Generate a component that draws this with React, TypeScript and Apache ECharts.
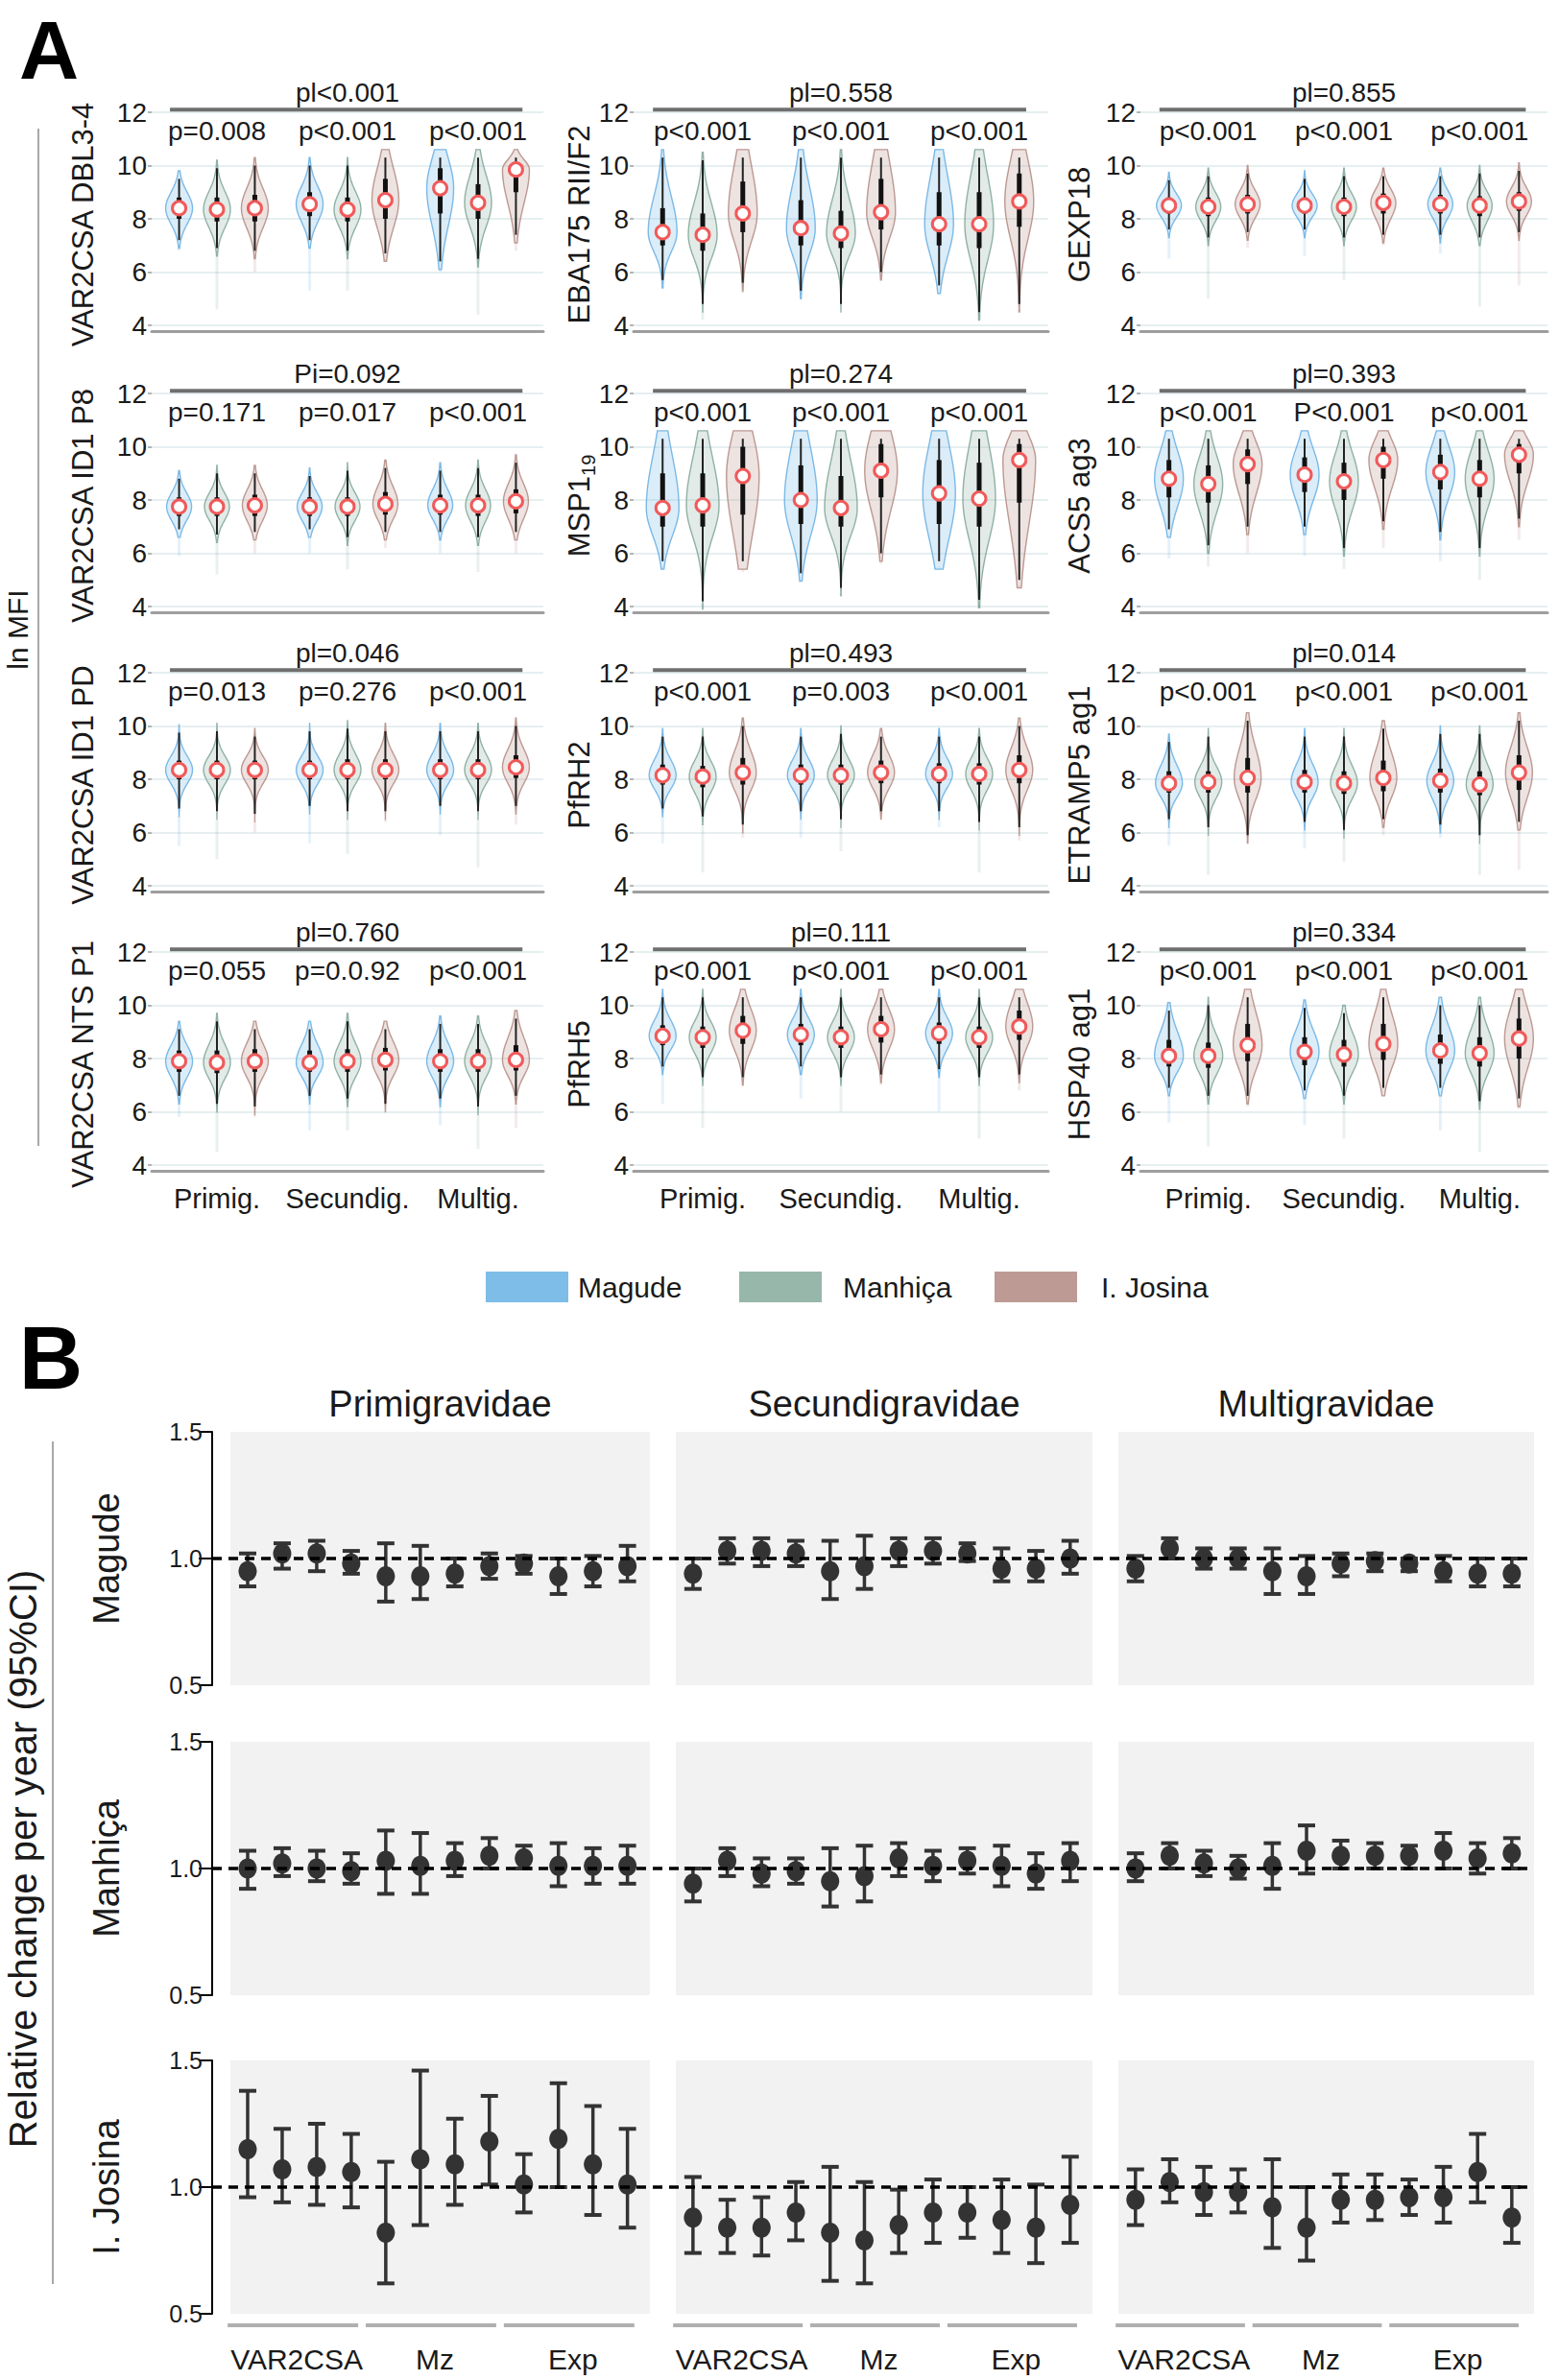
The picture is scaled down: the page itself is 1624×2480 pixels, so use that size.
import React, { useEffect, useRef } from 'react';
import * as echarts from 'echarts';

// ================= Panel A : violin plots (ln MFI) =================
const GROUPS = ['Primig.', 'Secundig.', 'Multig.'];
const SITES = ['Magude', 'Manhiça', 'I. Josina'];

// each row: [tail, lowerWhisker, q1, median, q3, upperWhisker]
// rows: Primig (Magude, Manhiça, I. Josina), Secundig (...), Multig (...)
const dbl34 = [
  [6.8, 7.2, 8.0, 8.4, 8.8, 9.5], [4.6, 6.9, 7.9, 8.35, 8.8, 9.9], [6.0, 6.8, 7.9, 8.4, 8.9, 10.0],
  [5.3, 7.2, 8.1, 8.55, 9.0, 10.0], [5.3, 6.8, 7.9, 8.35, 8.8, 10.0], [6.5, 6.7, 8.0, 8.7, 9.5, 10.3],
  [6.0, 6.4, 8.2, 9.15, 9.9, 10.3], [4.4, 6.5, 8.0, 8.6, 9.3, 10.3], [6.8, 7.4, 9.0, 9.85, 10.1, 10.3],
];
const eba175 = [
  [5.5, 5.7, 7.0, 7.5, 8.4, 10.3], [4.2, 4.8, 6.8, 7.4, 8.2, 10.2], [5.2, 5.6, 7.5, 8.2, 9.4, 10.3],
  [5.0, 5.3, 7.0, 7.65, 8.7, 10.3], [4.5, 4.8, 6.9, 7.45, 8.3, 10.3], [5.7, 6.0, 7.6, 8.25, 9.5, 10.3],
  [5.2, 5.5, 7.0, 7.8, 9.0, 10.3], [4.4, 4.5, 6.9, 7.8, 9.0, 10.3], [4.6, 4.8, 7.7, 8.65, 9.7, 10.3],
];
const gexp18 = [
  [6.5, 7.6, 8.2, 8.5, 8.8, 9.45], [5.0, 7.3, 8.1, 8.45, 8.8, 9.6], [6.9, 7.5, 8.2, 8.55, 8.9, 9.7],
  [6.6, 7.6, 8.2, 8.5, 8.8, 9.5], [5.7, 7.3, 8.1, 8.45, 8.8, 9.6], [7.0, 7.4, 8.2, 8.6, 8.95, 9.6],
  [6.7, 7.4, 8.2, 8.55, 8.9, 9.6], [4.7, 7.3, 8.1, 8.5, 8.85, 9.7], [5.5, 7.5, 8.3, 8.65, 9.0, 9.8],
];
const id1p8 = [
  [5.9, 6.9, 7.4, 7.75, 8.1, 8.8], [5.2, 6.7, 7.4, 7.75, 8.1, 9.0], [6.0, 6.8, 7.4, 7.8, 8.2, 9.0],
  [6.0, 6.9, 7.4, 7.75, 8.1, 8.9], [5.4, 6.6, 7.4, 7.75, 8.1, 9.1], [6.2, 6.8, 7.45, 7.85, 8.3, 9.2],
  [6.0, 6.8, 7.45, 7.8, 8.2, 9.1], [5.3, 6.6, 7.4, 7.8, 8.2, 9.2], [6.0, 6.8, 7.5, 7.95, 8.4, 9.4],
];
const msp119 = [
  [5.5, 5.7, 7.0, 7.7, 9.0, 10.3], [4.1, 4.2, 7.0, 7.8, 9.0, 10.3], [5.3, 5.7, 7.45, 8.9, 10.0, 10.3],
  [5.0, 5.25, 7.1, 8.0, 9.3, 10.3], [4.5, 4.7, 7.0, 7.7, 8.9, 10.3], [5.6, 6.0, 8.1, 9.1, 10.1, 10.3],
  [5.5, 5.7, 7.1, 8.25, 9.5, 10.3], [4.1, 4.25, 7.0, 8.05, 9.4, 10.3], [4.8, 5.0, 7.9, 9.5, 10.1, 10.3],
];
const acs5 = [
  [5.8, 6.9, 8.1, 8.8, 9.5, 10.3], [5.5, 6.3, 7.9, 8.6, 9.3, 10.3], [6.0, 7.0, 8.6, 9.35, 9.9, 10.3],
  [5.9, 7.0, 8.3, 8.95, 9.6, 10.3], [5.4, 6.2, 8.0, 8.7, 9.4, 10.3], [6.2, 7.2, 8.8, 9.5, 10.0, 10.3],
  [5.7, 6.8, 8.4, 9.05, 9.7, 10.3], [5.0, 6.2, 8.1, 8.8, 9.5, 10.3], [6.5, 7.3, 9.0, 9.7, 10.1, 10.3],
];
const id1pd = [
  [5.5, 6.9, 8.0, 8.35, 8.7, 9.75], [5.0, 6.8, 8.0, 8.35, 8.7, 9.8], [6.0, 6.7, 8.0, 8.35, 8.7, 9.6],
  [5.6, 7.0, 8.0, 8.35, 8.7, 9.8], [5.2, 6.8, 8.0, 8.35, 8.75, 9.9], [6.4, 6.8, 8.0, 8.35, 8.75, 9.8],
  [5.9, 7.0, 8.0, 8.35, 8.75, 9.8], [4.7, 6.8, 8.0, 8.35, 8.75, 9.8], [6.3, 7.0, 8.05, 8.45, 8.9, 10.0],
];
const pfrh2 = [
  [5.6, 6.9, 7.8, 8.15, 8.55, 9.6], [4.5, 6.6, 7.7, 8.1, 8.5, 9.6], [5.8, 6.3, 7.8, 8.25, 8.8, 10.0],
  [5.8, 6.8, 7.8, 8.15, 8.55, 9.6], [5.3, 6.5, 7.8, 8.15, 8.55, 9.7], [6.5, 6.8, 7.85, 8.25, 8.7, 9.6],
  [6.2, 6.8, 7.85, 8.2, 8.6, 9.6], [4.5, 6.4, 7.8, 8.2, 8.6, 9.6], [5.7, 6.2, 7.85, 8.35, 8.9, 10.0],
];
const etramp5 = [
  [5.5, 6.5, 7.5, 7.85, 8.3, 9.4], [4.4, 6.2, 7.5, 7.9, 8.3, 9.6], [5.7, 5.9, 7.5, 8.05, 8.8, 10.2],
  [5.4, 6.4, 7.5, 7.9, 8.35, 9.6], [4.9, 6.1, 7.45, 7.85, 8.3, 9.6], [5.9, 6.5, 7.55, 8.05, 8.7, 9.9],
  [5.8, 6.3, 7.5, 7.95, 8.4, 9.7], [4.4, 5.9, 7.4, 7.8, 8.3, 9.7], [4.6, 6.4, 7.6, 8.25, 8.9, 10.2],
];
const ntsp1 = [
  [5.8, 6.6, 7.5, 7.9, 8.3, 9.1], [4.5, 6.3, 7.45, 7.85, 8.3, 9.4], [5.8, 6.2, 7.5, 7.9, 8.35, 9.1],
  [5.3, 6.6, 7.5, 7.85, 8.3, 9.1], [5.3, 6.5, 7.5, 7.9, 8.35, 9.4], [6.0, 6.3, 7.55, 7.95, 8.4, 9.1],
  [5.5, 6.5, 7.5, 7.9, 8.35, 9.3], [4.6, 6.2, 7.5, 7.9, 8.35, 9.3], [5.4, 6.6, 7.55, 7.95, 8.5, 9.5],
];
const pfrh5 = [
  [6.3, 7.7, 8.5, 8.85, 9.25, 10.3], [5.4, 7.3, 8.4, 8.8, 9.2, 10.3], [7.0, 7.3, 8.55, 9.05, 9.6, 10.3],
  [6.5, 7.7, 8.5, 8.9, 9.3, 10.3], [6.0, 7.3, 8.4, 8.8, 9.2, 10.3], [7.0, 7.4, 8.6, 9.1, 9.6, 10.3],
  [6.0, 7.6, 8.55, 8.95, 9.35, 10.3], [5.0, 7.3, 8.4, 8.8, 9.2, 10.3], [6.8, 7.4, 8.7, 9.2, 9.8, 10.3],
];
const hsp40 = [
  [5.6, 6.9, 7.7, 8.1, 8.7, 9.8], [4.7, 6.6, 7.65, 8.1, 8.6, 10.0], [6.2, 6.6, 7.9, 8.5, 9.3, 10.3],
  [5.5, 6.8, 7.75, 8.25, 8.8, 9.9], [5.0, 6.6, 7.7, 8.15, 8.7, 9.7], [6.6, 6.9, 7.95, 8.55, 9.3, 10.3],
  [5.3, 6.9, 7.8, 8.3, 8.9, 10.0], [4.5, 6.4, 7.7, 8.2, 8.8, 10.0], [6.1, 6.5, 8.0, 8.75, 9.5, 10.3],
];

const PANEL_DATA = [dbl34, eba175, gexp18, id1p8, msp119, acs5, id1pd, pfrh2, etramp5, ntsp1, pfrh5, hsp40];
const PANEL_NAMES = [
  'VAR2CSA DBL3-4', 'EBA175 RII/F2', 'GEXP18',
  'VAR2CSA ID1 P8', 'MSP1{sub|19}', 'ACS5 ag3',
  'VAR2CSA ID1 PD', 'PfRH2', 'ETRAMP5 ag1',
  'VAR2CSA NTS P1', 'PfRH5', 'HSP40 ag1',
];
const PI_VALUES = [
  'pl<0.001', 'pl=0.558', 'pl=0.855',
  'Pi=0.092', 'pl=0.274', 'pl=0.393',
  'pl=0.046', 'pl=0.493', 'pl=0.014',
  'pl=0.760', 'pl=0.111', 'pl=0.334',
];
const P_VALUES = [
  ['p=0.008', 'p<0.001', 'p<0.001'],
  ['p<0.001', 'p<0.001', 'p<0.001'],
  ['p<0.001', 'p<0.001', 'p<0.001'],
  ['p=0.171', 'p=0.017', 'p<0.001'],
  ['p<0.001', 'p<0.001', 'p<0.001'],
  ['p<0.001', 'P<0.001', 'p<0.001'],
  ['p=0.013', 'p=0.276', 'p<0.001'],
  ['p<0.001', 'p=0.003', 'p<0.001'],
  ['p<0.001', 'p<0.001', 'p<0.001'],
  ['p=0.055', 'p=0.0.92', 'p<0.001'],
  ['p<0.001', 'p<0.001', 'p<0.001'],
  ['p<0.001', 'p<0.001', 'p<0.001'],
];
const Y_TICKS_A = [4, 6, 8, 10, 12];

// ================= Panel B : relative change per year =================
const GRAVIDITY = ['Primigravidae', 'Secundigravidae', 'Multigravidae'];
const B_SITES = ['Magude', 'Manhiça', 'I. Josina'];
const B_GROUPS = ['VAR2CSA', 'Mz', 'Exp'];
const B_X = [1, 2, 3, 4, 5, 6, 7, 8, 9, 10, 11, 12];

const magudeMid = [
  [0.95, 1.02, 1.02, 0.98, 0.93, 0.93, 0.94, 0.97, 0.98, 0.93, 0.95, 0.97],
  [0.94, 1.03, 1.03, 1.02, 0.95, 0.97, 1.03, 1.03, 1.02, 0.96, 0.96, 1.0],
  [0.96, 1.04, 1.0, 1.0, 0.95, 0.93, 0.98, 0.99, 0.98, 0.95, 0.94, 0.94],
];
const magudeLo = [
  [0.89, 0.96, 0.95, 0.94, 0.83, 0.84, 0.89, 0.92, 0.94, 0.86, 0.89, 0.91],
  [0.88, 0.98, 0.97, 0.97, 0.84, 0.88, 0.97, 0.98, 0.99, 0.91, 0.91, 0.94],
  [0.91, 1.0, 0.96, 0.96, 0.86, 0.86, 0.93, 0.95, 0.95, 0.91, 0.89, 0.89],
];
const magudeHi = [
  [1.02, 1.06, 1.07, 1.03, 1.06, 1.05, 1.0, 1.02, 1.01, 1.0, 1.01, 1.05],
  [1.0, 1.08, 1.08, 1.07, 1.07, 1.09, 1.08, 1.08, 1.06, 1.04, 1.03, 1.07],
  [1.01, 1.08, 1.04, 1.04, 1.04, 1.01, 1.02, 1.02, 1.0, 1.01, 1.0, 1.0],
];
const manhicaMid = [
  [1.0, 1.02, 1.0, 0.99, 1.03, 1.01, 1.03, 1.05, 1.04, 1.01, 1.01, 1.01],
  [0.94, 1.03, 0.98, 0.99, 0.95, 0.97, 1.04, 1.01, 1.03, 1.01, 0.98, 1.03],
  [1.0, 1.05, 1.02, 1.0, 1.01, 1.07, 1.05, 1.05, 1.05, 1.07, 1.04, 1.06],
];
const manhicaLo = [
  [0.92, 0.97, 0.95, 0.94, 0.9, 0.9, 0.97, 1.0, 1.0, 0.93, 0.94, 0.94],
  [0.87, 0.97, 0.93, 0.94, 0.85, 0.87, 0.97, 0.95, 0.98, 0.93, 0.92, 0.95],
  [0.95, 1.0, 0.97, 0.96, 0.92, 0.98, 1.0, 1.0, 1.0, 1.0, 0.98, 1.0],
];
const manhicaHi = [
  [1.07, 1.08, 1.07, 1.06, 1.15, 1.14, 1.1, 1.12, 1.09, 1.1, 1.08, 1.09],
  [1.0, 1.08, 1.04, 1.04, 1.08, 1.09, 1.1, 1.07, 1.08, 1.09, 1.06, 1.1],
  [1.06, 1.1, 1.07, 1.05, 1.1, 1.17, 1.11, 1.1, 1.09, 1.14, 1.1, 1.12],
];
const josinaMid = [
  [1.15, 1.07, 1.08, 1.06, 0.82, 1.11, 1.09, 1.18, 1.01, 1.19, 1.09, 1.01],
  [0.88, 0.84, 0.84, 0.9, 0.82, 0.79, 0.85, 0.9, 0.9, 0.87, 0.84, 0.93],
  [0.95, 1.02, 0.98, 0.98, 0.92, 0.84, 0.95, 0.95, 0.96, 0.96, 1.06, 0.88],
];
const josinaLo = [
  [0.96, 0.94, 0.93, 0.92, 0.62, 0.85, 0.93, 1.01, 0.9, 1.0, 0.89, 0.84],
  [0.74, 0.74, 0.73, 0.79, 0.63, 0.62, 0.74, 0.78, 0.8, 0.74, 0.7, 0.78],
  [0.85, 0.94, 0.89, 0.9, 0.76, 0.71, 0.86, 0.87, 0.89, 0.86, 0.94, 0.78],
];
const josinaHi = [
  [1.38, 1.23, 1.25, 1.21, 1.1, 1.46, 1.27, 1.36, 1.13, 1.41, 1.32, 1.23],
  [1.04, 0.95, 0.96, 1.02, 1.08, 1.02, 0.99, 1.03, 1.0, 1.03, 1.01, 1.12],
  [1.07, 1.11, 1.08, 1.07, 1.11, 1.0, 1.05, 1.05, 1.03, 1.08, 1.21, 1.0],
];
const B_MID = [magudeMid, manhicaMid, josinaMid];
const B_LO = [magudeLo, manhicaLo, josinaLo];
const B_HI = [magudeHi, manhicaHi, josinaHi];

// ================= styling / layout =================
const FONT = 'Liberation Sans, Arial, sans-serif';
const SITE_COLORS = ['#7DBDE8', '#97B7AA', '#BD9B94'];
const SITE_FILL = ['rgba(125,189,232,0.28)', 'rgba(151,183,170,0.28)', 'rgba(189,155,148,0.28)'];
const SITE_LINE = ['rgba(95,170,225,0.8)', 'rgba(120,160,145,0.8)', 'rgba(175,130,122,0.8)'];
const DODGE = 0.29;
const HALF_W = [14, 15, 13, 13, 17, 15, 14, 14, 14, 14, 14, 15];

const A_ROW_TOP = [117, 410, 701, 992];
const A_H = 222;
const A_COL_LEFT = [158, 660, 1188];
const A_COL_W = [408, 432, 424];
const A_NAME_X = [86, 603, 1124];

const B_ROW_TOP = [1492, 1815, 2147];
const B_H = 264;
const B_COL_LEFT = [240, 704, 1165];
const B_COL_W = [437, 434, 433];
const B_XMIN = 0.5;
const B_XMAX = 12.65;

const makeViolin = (halfW: number) => (params: any, api: any) => {
  const cat = api.value(0);
  const site = api.value(1);
  const tail = api.value(2);
  const lo = api.value(3);
  const q1 = api.value(4);
  const med = api.value(5);
  const q3 = api.value(6);
  const hi = api.value(7);
  const band = api.size([1, 0])[0];
  const cx = api.coord([cat, med])[0] + (site - 1) * band * DODGE;
  const py = (v: number) => api.coord([cat, v])[1];
  const sL = Math.max((med - q1) / 0.674, 0.2);
  const sU = Math.max((q3 - med) / 0.674, 0.2);
  const bottom = lo - 0.3;
  const top = Math.min(hi + 0.3, 10.7);
  const N = 48;
  const left: number[][] = [];
  const right: number[][] = [];
  for (let i = 0; i <= N; i++) {
    const v = bottom + ((top - bottom) * i) / N;
    const s = v < med ? sL : sU;
    const z = (v - med) / s;
    const w = halfW * Math.exp(-0.5 * z * z);
    left.push([cx - w, py(v)]);
    right.push([cx + w, py(v)]);
  }
  const pts = left.concat(right.reverse());
  return {
    type: 'group',
    children: [
      { type: 'line', shape: { x1: cx, y1: py(tail), x2: cx, y2: py(bottom) }, style: { stroke: SITE_LINE[site], opacity: 0.2, lineWidth: 3 } },
      { type: 'polygon', shape: { points: pts }, style: { fill: SITE_FILL[site], stroke: SITE_LINE[site], lineWidth: 1.4 } },
      { type: 'line', shape: { x1: cx, y1: py(lo), x2: cx, y2: py(hi) }, style: { stroke: '#222', lineWidth: 2 } },
      { type: 'rect', shape: { x: cx - 2.5, y: py(q3), width: 5, height: py(q1) - py(q3) }, style: { fill: '#111' } },
      { type: 'circle', shape: { cx, cy: py(med), r: 7 }, style: { fill: '#fff', stroke: '#f05a5a', lineWidth: 3 } },
    ],
  };
};

const renderErrorBar = (params: any, api: any) => {
  const x = api.value(0);
  const lo = api.value(1);
  const mid = api.value(2);
  const hi = api.value(3);
  const pLo = api.coord([x, lo]);
  const pHi = api.coord([x, hi]);
  const pMid = api.coord([x, mid]);
  const cw = 9;
  const col = '#333';
  return {
    type: 'group',
    children: [
      { type: 'line', shape: { x1: pLo[0], y1: pLo[1], x2: pHi[0], y2: pHi[1] }, style: { stroke: col, lineWidth: 3.5 } },
      { type: 'line', shape: { x1: pHi[0] - cw, y1: pHi[1], x2: pHi[0] + cw, y2: pHi[1] }, style: { stroke: col, lineWidth: 4 } },
      { type: 'line', shape: { x1: pLo[0] - cw, y1: pLo[1], x2: pLo[0] + cw, y2: pLo[1] }, style: { stroke: col, lineWidth: 4 } },
      { type: 'ellipse', shape: { cx: pMid[0], cy: pMid[1], rx: 9.5, ry: 10.5 }, style: { fill: col } },
    ],
  };
};

function buildOption() {
  const grid: any[] = [];
  const xAxis: any[] = [];
  const yAxis: any[] = [];
  const series: any[] = [];
  const graphic: any[] = [];

  const text = (t: string, x: number, y: number, size: number, extra: any = {}) => {
    graphic.push({
      type: 'text',
      x,
      y,
      rotation: extra.rotation || 0,
      z: 50,
      style: {
        text: t,
        fontSize: size,
        fontFamily: FONT,
        fontWeight: extra.fontWeight || 'normal',
        fill: extra.fill || '#1a1a1a',
        align: extra.align || 'center',
        verticalAlign: 'middle',
        lineHeight: extra.lineHeight,
        rich: extra.rich,
      },
    });
  };
  const line = (x1: number, y1: number, x2: number, y2: number, stroke: string, w: number) => {
    graphic.push({ type: 'line', z: 50, shape: { x1, y1, x2, y2 }, style: { stroke, lineWidth: w } });
  };

  // ----- Panel A -----
  for (let i = 0; i < 12; i++) {
    const r = Math.floor(i / 3);
    const c = i % 3;
    grid.push({ left: A_COL_LEFT[c], top: A_ROW_TOP[r], width: A_COL_W[c], height: A_H });
    xAxis.push({
      type: 'category',
      gridIndex: i,
      data: GROUPS,
      boundaryGap: true,
      offset: 6,
      axisLine: { show: true, lineStyle: { color: '#9e9e9e', width: 3 } },
      axisTick: { show: false },
      axisLabel: { show: r === 3, fontSize: 29, color: '#1a1a1a', margin: 14, interval: 0, fontFamily: FONT },
      splitLine: { show: false },
    });
    yAxis.push({
      type: 'value',
      gridIndex: i,
      min: Y_TICKS_A[0],
      max: Y_TICKS_A[Y_TICKS_A.length - 1],
      interval: 2,
      axisLine: { show: false },
      axisTick: { show: true, length: 4, lineStyle: { color: '#b5b5b5', width: 2 } },
      axisLabel: { fontSize: 28, color: '#1a1a1a', margin: 5, fontFamily: FONT },
      splitLine: { show: true, lineStyle: { color: '#e6eff1', width: 2 } },
    });
    series.push({
      type: 'custom',
      xAxisIndex: i,
      yAxisIndex: i,
      renderItem: makeViolin(HALF_W[i]),
      encode: { x: 0, y: 5 },
      clip: false,
      data: PANEL_DATA[i].map((row, j) => [Math.floor(j / 3), j % 3, ...row]),
    });

    // annotations
    const band = A_COL_W[c] / 3;
    const gc = (g: number) => A_COL_LEFT[c] + band * (g + 0.5);
    const py = (v: number) => A_ROW_TOP[r] + ((12 - v) / 8) * A_H;
    line(gc(0) - 0.36 * band, py(12.1), gc(2) + 0.34 * band, py(12.1), '#6f6f6f', 4);
    text(PI_VALUES[i], gc(1), py(12.75), 28);
    for (let g = 0; g < 3; g++) text(P_VALUES[i][g], gc(g), py(11.3), 28);
    const nameRich = { sub: { fontSize: 20, verticalAlign: 'bottom', lineHeight: 40, fontFamily: FONT, fill: '#1a1a1a' } };
    text(PANEL_NAMES[i], A_NAME_X[c], A_ROW_TOP[r] + A_H / 2 + 6, 31, { rotation: Math.PI / 2, rich: nameRich });
  }

  // ----- Panel B facets -----
  for (let r = 0; r < 3; r++) {
    for (let c = 0; c < 3; c++) {
      const gi = grid.length;
      grid.push({
        left: B_COL_LEFT[c], top: B_ROW_TOP[r], width: B_COL_W[c], height: B_H,
        show: true, backgroundColor: '#F2F2F2', borderWidth: 0,
      });
      xAxis.push({ type: 'value', gridIndex: gi, min: B_XMIN, max: B_XMAX, show: false, splitLine: { show: false } });
      yAxis.push({
        type: 'value',
        gridIndex: gi,
        min: 0.5,
        max: 1.5,
        interval: 0.5,
        show: c === 0,
        offset: 19,
        axisLine: { show: true, lineStyle: { color: '#000', width: 2 } },
        axisTick: { show: true, length: 14, lineStyle: { color: '#000', width: 2 } },
        axisLabel: { fontSize: 25, color: '#1a1a1a', margin: 10, fontFamily: FONT, formatter: (v: number) => v.toFixed(1) },
        splitLine: { show: false },
      });
      series.push({
        type: 'custom',
        xAxisIndex: gi,
        yAxisIndex: gi,
        renderItem: renderErrorBar,
        encode: { x: 0, y: 2 },
        clip: false,
        z: 3,
        data: B_MID[r][c].map((m, k) => [B_X[k], B_LO[r][c][k], m, B_HI[r][c][k]]),
      });
    }
  }
  // ----- Panel B dashed reference lines (one per row, across facets) -----
  for (let r = 0; r < 3; r++) {
    const gi = grid.length;
    grid.push({ left: 221, top: B_ROW_TOP[r], width: 1598 - 221, height: B_H });
    xAxis.push({ type: 'value', gridIndex: gi, min: 0, max: 1, show: false, splitLine: { show: false } });
    yAxis.push({ type: 'value', gridIndex: gi, min: 0.5, max: 1.5, show: false, splitLine: { show: false } });
    series.push({
      type: 'line',
      xAxisIndex: gi,
      yAxisIndex: gi,
      symbol: 'none',
      z: 10,
      lineStyle: { color: '#000', width: 3.5, type: [10, 7] },
      data: [[0, 1], [1, 1]],
    });
  }

  // ----- Panel A decorations -----
  text('A', 51, 52, 86, { fontWeight: 'bold', fill: '#000' });
  line(40, 134, 40, 1194, '#a8a8a8', 2);
  text('ln MFI', 18, 656, 30, { rotation: Math.PI / 2 });

  // legend
  const legX = [506, 770, 1036];
  const legTextX = [602, 878, 1147];
  for (let s = 0; s < 3; s++) {
    graphic.push({ type: 'rect', z: 50, shape: { x: legX[s], y: 1325, width: 86, height: 32 }, style: { fill: SITE_COLORS[s] } });
    text(SITES[s], legTextX[s], 1341, 30, { align: 'left' });
  }

  // ----- Panel B decorations -----
  text('B', 53, 1415, 92, { fontWeight: 'bold', fill: '#000' });
  line(55, 1502, 55, 2380, '#a8a8a8', 2);
  text('Relative change per year (95%CI)', 24, 1937, 40, { rotation: Math.PI / 2 });
  for (let c = 0; c < 3; c++) {
    text(GRAVIDITY[c], B_COL_LEFT[c] + B_COL_W[c] / 2, 1463, 38);
  }
  for (let r = 0; r < 3; r++) {
    text(B_SITES[r], 111, B_ROW_TOP[r] + B_H / 2, 38, { rotation: Math.PI / 2 });
  }
  const bx = (c: number, v: number) => B_COL_LEFT[c] + ((v - B_XMIN) / (B_XMAX - B_XMIN)) * B_COL_W[c];
  const underY = B_ROW_TOP[2] + B_H + 12;
  for (let c = 0; c < 3; c++) {
    for (let g = 0; g < 3; g++) {
      line(bx(c, g * 4 + 0.42), underY, bx(c, g * 4 + 4.2), underY, '#b0b0b0', 4);
      text(B_GROUPS[g], bx(c, g * 4 + 2.42), underY + 35, 30);
    }
  }

  return {
    animation: false,
    backgroundColor: '#fff',
    textStyle: { fontFamily: FONT },
    grid,
    xAxis,
    yAxis,
    series,
    graphic,
  };
}

export default function App() {
  const ref = useRef<HTMLDivElement>(null);
  useEffect(() => {
    if (!ref.current) return;
    const chart = echarts.init(ref.current, null, { renderer: 'svg' });
    chart.setOption(buildOption() as any);
    return () => chart.dispose();
  }, []);
  return (
    <div
      ref={ref}
      style={{ position: 'absolute', left: 0, top: 0, width: 1624, height: 2480, background: '#fff' }}
    />
  );
}
